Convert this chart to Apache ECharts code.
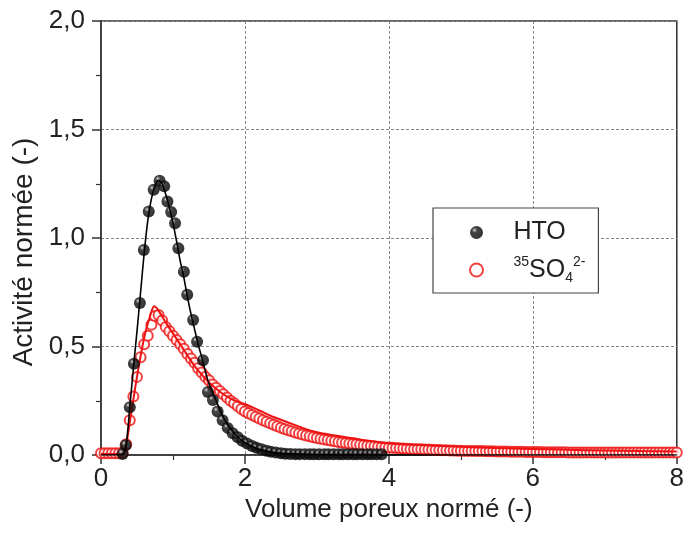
<!DOCTYPE html>
<html><head><meta charset="utf-8">
<script src="https://cdn.jsdelivr.net/npm/echarts@6/dist/echarts.min.js"></script>
<style>html,body{margin:0;padding:0;background:#fff}#c{width:687px;height:541px}</style>
</head><body><div id="c"></div>
<script>
// HTO measured points
const htoX = [0.30,0.343,0.40,0.457,0.54,0.595,0.663,0.732,0.814,0.878,0.923,0.975,1.029,1.075,1.152,1.198,1.28,1.335,1.417,1.486,1.555,1.62,1.69,1.76,1.83,1.90,1.96,2.03,2.10,2.16,2.23,2.30,2.36,2.43,2.50,2.56,2.63,2.70,2.76,2.83,2.90,2.96,3.03,3.10,3.16,3.23,3.30,3.36,3.43,3.50,3.56,3.63,3.70,3.76,3.83,3.90];
const htoY = [0.005,0.045,0.22,0.42,0.70,0.945,1.122,1.222,1.264,1.238,1.168,1.12,1.068,0.953,0.845,0.738,0.622,0.522,0.437,0.29,0.253,0.20,0.16,0.125,0.10,0.082,0.066,0.053,0.042,0.033,0.026,0.02,0.015,0.011,0.008,0.006,0.005,0.004,0.004,0.004,0.003,0.003,0.003,0.003,0.003,0.003,0.003,0.003,0.003,0.003,0.003,0.003,0.003,0.003,0.003,0.003];
// HTO fitted curve
const htoFitX = [0,0.30,0.35,0.40,0.45,0.50,0.55,0.60,0.65,0.70,0.75,0.80,0.85,0.90,0.95,1.00,1.05,1.10,1.15,1.20,1.25,1.30,1.35,1.40,1.45,1.50,1.60,1.70,1.80,1.90,2.00,2.20,2.40,2.60,3.00,4.00,8.00];
const htoFitY = [0,0,0.05,0.22,0.40,0.57,0.75,0.93,1.08,1.18,1.24,1.265,1.25,1.20,1.14,1.07,0.985,0.895,0.82,0.73,0.65,0.58,0.51,0.45,0.385,0.33,0.25,0.175,0.12,0.083,0.057,0.025,0.011,0.005,0.001,0,0];
// 35SO4 2- measured points
const sulfX = [
0.00,0.05,0.10,0.15,0.20,0.25,0.30,0.35,0.40,0.45,0.50,0.55,0.60,0.65,0.70,0.75,0.80,0.85,0.90,0.95,
1.00,1.05,1.10,1.15,1.20,1.25,1.30,1.35,1.40,1.45,1.50,1.55,1.60,1.65,1.70,1.75,1.80,1.85,1.90,1.95,
2.00,2.05,2.10,2.15,2.20,2.25,2.30,2.35,2.40,2.45,2.50,2.55,2.60,2.65,2.70,2.75,2.80,2.85,2.90,2.95,
3.00,3.05,3.10,3.15,3.20,3.25,3.30,3.35,3.40,3.45,3.50,3.55,3.60,3.65,3.70,3.75,3.80,3.85,3.90,3.95,
4.00,4.05,4.10,4.15,4.20,4.25,4.30,4.35,4.40,4.45,4.50,4.55,4.60,4.65,4.70,4.75,4.80,4.85,4.90,4.95,
5.00,5.05,5.10,5.15,5.20,5.25,5.30,5.35,5.40,5.45,5.50,5.55,5.60,5.65,5.70,5.75,5.80,5.85,5.90,5.95,
6.00,6.05,6.10,6.15,6.20,6.25,6.30,6.35,6.40,6.45,6.50,6.55,6.60,6.65,6.70,6.75,6.80,6.85,6.90,6.95,
7.00,7.05,7.10,7.15,7.20,7.25,7.30,7.35,7.40,7.45,7.50,7.55,7.60,7.65,7.70,7.75,7.80,7.85,7.90,7.95,
8.00];
const sulfY = [
0.008,0.008,0.008,0.008,0.008,0.008,0.01,0.05,0.16,0.27,0.36,0.45,0.51,0.55,0.60,0.64,0.645,0.62,0.59,0.57,
0.55,0.53,0.51,0.49,0.465,0.445,0.425,0.40,0.38,0.36,0.345,0.325,0.31,0.295,0.28,0.265,0.25,0.238,0.225,0.212,
0.20,0.192,0.184,0.176,0.168,0.16,0.153,0.146,0.139,0.132,0.126,0.12,0.114,0.109,0.104,0.099,0.094,0.09,0.086,0.082,
0.078,0.075,0.072,0.069,0.066,0.063,0.06,0.058,0.055,0.053,0.051,0.049,0.047,0.045,0.043,0.041,0.04,0.038,0.037,0.035,
0.034,0.033,0.032,0.031,0.03,0.029,0.028,0.027,0.027,0.026,0.025,0.025,0.024,0.023,0.023,0.022,0.022,0.021,0.021,0.02,
0.02,0.019,0.019,0.019,0.018,0.018,0.018,0.017,0.017,0.017,0.016,0.016,0.016,0.016,0.015,0.015,0.015,0.015,0.014,0.014,
0.014,0.014,0.014,0.013,0.013,0.013,0.013,0.013,0.013,0.013,0.012,0.012,0.012,0.012,0.012,0.012,0.012,0.012,0.012,0.012,
0.012,0.011,0.011,0.011,0.011,0.011,0.011,0.011,0.011,0.011,0.011,0.011,0.011,0.011,0.011,0.011,0.011,0.011,0.011,0.011,
0.011];
// 35SO4 2- fitted curve
const sulfFitX = [0,0.30,0.34,0.40,0.50,0.60,0.70,0.74,0.80,0.90,1.00,1.10,1.20,1.30,1.40,1.50,1.60,1.70,1.80,1.90,2.00,2.20,2.40,2.60,2.80,3.00,3.25,3.50,3.75,4.00,4.50,5.00,5.50,6.00,6.50,7.00,7.50,8.00];
const sulfFitY = [0.005,0.005,0.03,0.15,0.36,0.54,0.66,0.685,0.665,0.61,0.56,0.51,0.46,0.41,0.37,0.335,0.305,0.28,0.26,0.245,0.235,0.205,0.175,0.15,0.125,0.105,0.09,0.077,0.064,0.053,0.045,0.038,0.032,0.028,0.024,0.021,0.018,0.016];

const seriesNames = ['HTO', 'SO4'];
const xTitle = 'Volume poreux normé (-)';
const yTitle = 'Activité normée (-)';

const pairs = (xs, ys) => xs.map((x, i) => [x, ys[i]]);
const RED = '#ee1111';
const FONT = 'Liberation Sans';

const chart = echarts.init(document.getElementById('c'), null, {renderer: 'canvas'});
chart.setOption({
  animation: false,
  backgroundColor: '#fff',
  grid: {left: 101, top: 21, width: 581, height: 434, show: true, borderColor: '#333', borderWidth: 1.5, backgroundColor: 'transparent'},
  xAxis: {
    type: 'value', min: 0, max: 8, interval: 2,
    name: xTitle, nameLocation: 'middle', nameGap: 42,
    nameTextStyle: {fontFamily: FONT, fontSize: 26, color: '#222'},
    axisLine: {show: true, onZero: false, lineStyle: {color: '#333', width: 1.5}},
    axisTick: {show: true, length: 9, lineStyle: {color: '#333', width: 1.5}},
    minorTick: {show: true, splitNumber: 2, length: 5, lineStyle: {color: '#333', width: 1.2}},
    axisLabel: {fontFamily: FONT, fontSize: 26, color: '#222', margin: 11},
    splitLine: {show: true, lineStyle: {color: '#888', width: 1, type: [3, 2]}}
  },
  yAxis: {
    type: 'value', min: 0, max: 2, interval: 0.5,
    name: yTitle, nameLocation: 'middle', nameGap: 55,
    nameTextStyle: {fontFamily: FONT, fontSize: 28, color: '#222', padding: [0, 28, 0, 0]},
    axisLine: {show: true, lineStyle: {color: '#333', width: 1.5}},
    axisTick: {show: true, length: 9, lineStyle: {color: '#333', width: 1.5}},
    minorTick: {show: true, splitNumber: 2, length: 5, lineStyle: {color: '#333', width: 1.2}},
    axisLabel: {fontFamily: FONT, fontSize: 26, color: '#222', margin: 16,
      formatter: v => v.toFixed(1).replace('.', ',')},
    splitLine: {show: true, lineStyle: {color: '#888', width: 1, type: [3, 2]}}
  },
  legend: {
    data: seriesNames,
    orient: 'vertical', left: 433, top: 208,
    padding: [12, 13, 8, 36],
    itemWidth: 64, itemHeight: 13, itemGap: 10,
    backgroundColor: '#fff', borderColor: '#444', borderWidth: 1.2,
    formatter: n => n === 'HTO' ? '{big|HTO}' : '{sup|35}{big|SO}{sub|4}{sup|2-}',
    textStyle: {
      fontFamily: FONT, color: '#222',
      rich: {
        big: {fontFamily: FONT, fontSize: 25, lineHeight: 30, color: '#222'},
        sup: {fontFamily: FONT, fontSize: 14, lineHeight: 30, verticalAlign: 'top', color: '#222'},
        sub: {fontFamily: FONT, fontSize: 14, lineHeight: 30, verticalAlign: 'bottom', color: '#222'}
      }
    }
  },
  series: [
    {
      name: 'SO4', type: 'scatter', data: pairs(sulfX, sulfY),
      symbol: 'emptyCircle', symbolSize: 10, clip: false,
      itemStyle: {color: RED, borderColor: RED, borderWidth: 1.2}, z: 2
    },
    {
      name: 'SO4 fit', type: 'line', data: pairs(sulfFitX, sulfFitY),
      showSymbol: false, smooth: 0.3, lineStyle: {color: RED, width: 2}, z: 3
    },
    {
      name: 'HTO', type: 'scatter', data: pairs(htoX, htoY),
      symbol: 'circle', symbolSize: 12, clip: false,
      itemStyle: {color: {type: 'radial', x: 0.35, y: 0.32, r: 0.7,
        colorStops: [{offset: 0, color: '#c8c8c8'}, {offset: 0.28, color: '#151515'}, {offset: 1, color: '#000'}]}},
      z: 4
    },
    {
      name: 'HTO fit', type: 'line', data: pairs(htoFitX, htoFitY),
      showSymbol: false, smooth: 0.3, lineStyle: {color: '#000', width: 1.6}, z: 5
    }
  ]
});
</script>
</body></html>
